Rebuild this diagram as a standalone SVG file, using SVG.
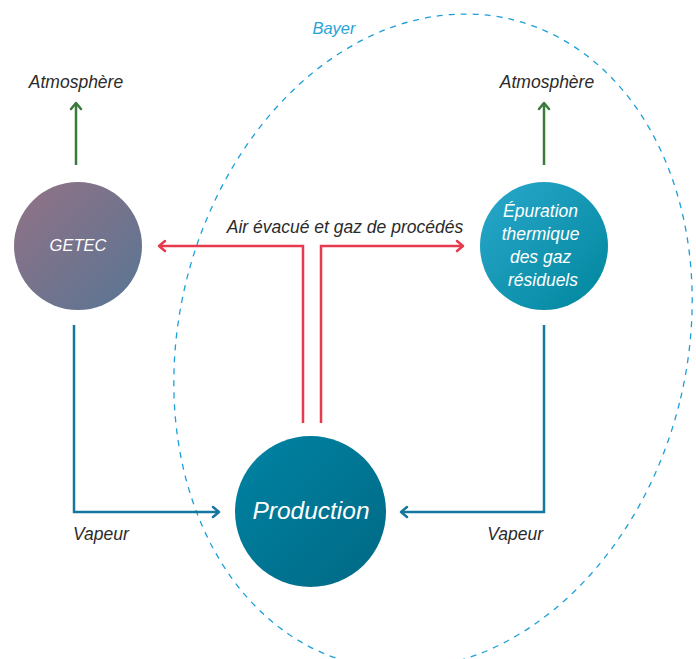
<svg xmlns="http://www.w3.org/2000/svg" width="696" height="659" viewBox="0 0 696 659">
  <defs>
    <linearGradient id="gGetec" x1="0" y1="0" x2="1" y2="1">
      <stop offset="0" stop-color="#937286"/>
      <stop offset="1" stop-color="#587593"/>
    </linearGradient>
    <linearGradient id="gEpur" x1="0" y1="0" x2="1" y2="1">
      <stop offset="0" stop-color="#2aa8cb"/>
      <stop offset="1" stop-color="#00869d"/>
    </linearGradient>
    <linearGradient id="gProd" x1="0" y1="0" x2="1" y2="1">
      <stop offset="0" stop-color="#0083a3"/>
      <stop offset="1" stop-color="#006985"/>
    </linearGradient>
    <marker id="aRed" viewBox="-10 -7 12 14" refX="0" refY="0" markerWidth="12" markerHeight="14" markerUnits="userSpaceOnUse" orient="auto">
      <path d="M-6,-5 L0,0 L-6,5" fill="none" stroke="#e63a4e" stroke-width="2.5" stroke-linecap="round" stroke-linejoin="round"/>
    </marker>
    <marker id="aBlue" viewBox="-10 -7 12 14" refX="0" refY="0" markerWidth="12" markerHeight="14" markerUnits="userSpaceOnUse" orient="auto">
      <path d="M-6,-5 L0,0 L-6,5" fill="none" stroke="#1577a0" stroke-width="2.5" stroke-linecap="round" stroke-linejoin="round"/>
    </marker>
    <marker id="aGreen" viewBox="-10 -7 12 14" refX="0" refY="0" markerWidth="12" markerHeight="14" markerUnits="userSpaceOnUse" orient="auto">
      <path d="M-6,-5 L0,0 L-6,5" fill="none" stroke="#3a7b3c" stroke-width="2.5" stroke-linecap="round" stroke-linejoin="round"/>
    </marker>
  </defs>
  <style>
    .lbl { font-family: "Liberation Sans", Arial, sans-serif; font-style: italic; fill: #2b2b2b; font-size: 17.5px; }
    .wt { font-family: "Liberation Sans", Arial, sans-serif; font-style: italic; fill: #ffffff; text-anchor: middle; }
    .red { fill: none; stroke: #e63a4e; stroke-width: 2.5; marker-end: url(#aRed); }
    .blue { fill: none; stroke: #1577a0; stroke-width: 2.5; marker-end: url(#aBlue); }
    .green { fill: none; stroke: #3a7b3c; stroke-width: 2.5; marker-end: url(#aGreen); }
  </style>
  <rect width="696" height="659" fill="#ffffff"/>

  <g id="bayer">
    <ellipse cx="433" cy="341.5" rx="254" ry="331.5" transform="rotate(14 433 341.5)" fill="none" stroke="#1e9fd8" stroke-width="1.3" stroke-dasharray="6 6"/>
    <text x="334" y="34" font-family="Liberation Sans, Arial, sans-serif" font-style="italic" font-size="16.5" fill="#2aa3d9" text-anchor="middle">Bayer</text>
  </g>

  <g id="connectors">
    <path class="green" d="M76,165 V103"/>
    <path class="green" d="M544,165 V103"/>
    <path class="red" d="M303,423 V246 H159"/>
    <path class="red" d="M321,423 V246 H463"/>
    <path class="blue" d="M74,325 V512 H219"/>
    <path class="blue" d="M544,325 V512 H401"/>
  </g>

  <g id="labels">
    <text class="lbl" x="76" y="88" text-anchor="middle">Atmosphère</text>
    <text class="lbl" x="547" y="88" text-anchor="middle">Atmosphère</text>
    <text class="lbl" x="345" y="233" text-anchor="middle" font-size="17.5">Air évacué et gaz de procédés</text>
    <text class="lbl" x="73" y="540">Vapeur</text>
    <text class="lbl" x="543" y="540" text-anchor="end">Vapeur</text>
  </g>

  <g id="getec">
    <circle cx="78" cy="246" r="64" fill="url(#gGetec)"/>
    <text class="wt" x="78" y="251" font-size="16.5">GETEC</text>
  </g>

  <g id="epuration">
    <circle cx="544" cy="246" r="64" fill="url(#gEpur)"/>
    <text class="wt" font-size="17.5">
      <tspan x="543" y="217">Épuration</tspan>
      <tspan x="543" y="240">thermique</tspan>
      <tspan x="543" y="263">des gaz</tspan>
      <tspan x="543" y="286">résiduels</tspan>
    </text>
  </g>

  <g id="production">
    <circle cx="310.5" cy="511.5" r="75.5" fill="url(#gProd)"/>
    <text class="wt" x="311" y="519" font-size="24.5">Production</text>
  </g>
</svg>
